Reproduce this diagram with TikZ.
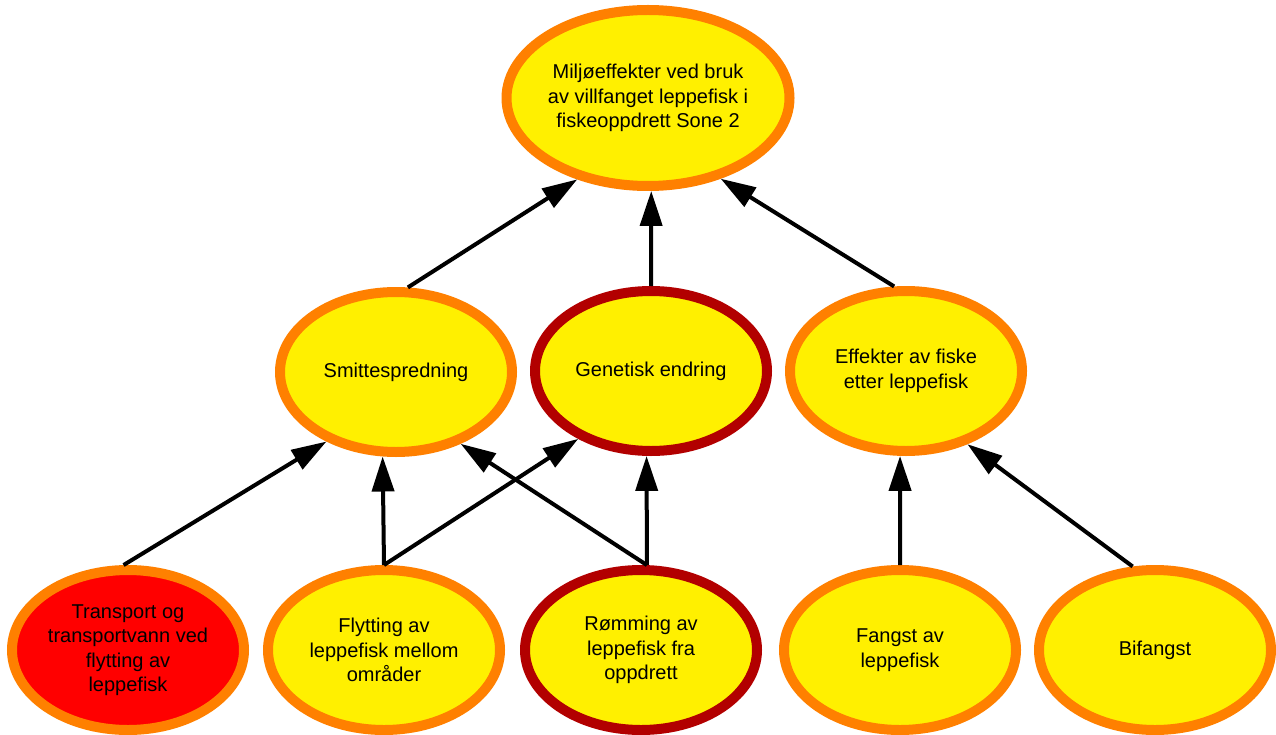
\documentclass[tikz,border=0pt]{standalone}
\usepackage{fontspec}
\setmainfont{Liberation Sans}
\usetikzlibrary{arrows.meta,shapes.geometric}
\definecolor{fillyellow}{RGB}{255,240,0}
\definecolor{rimorange}{RGB}{255,128,0}
\definecolor{rimdark}{RGB}{178,0,0}
\definecolor{fillred}{RGB}{255,0,0}
\begin{document}
\begin{tikzpicture}[x=1pt,y=-1pt,
  bubble/.style={ellipse,draw=rimorange,fill=fillyellow,line width=10pt,
    minimum width=232pt,minimum height=160pt,inner sep=0pt,align=center,
    font=\fontsize{20}{24.5}\selectfont,text=black},
  bigbubble/.style={bubble,minimum width=282pt,minimum height=176pt},
  darkrim/.style={draw=rimdark},
  redfill/.style={fill=fillred},
  link/.style={line width=4pt,-{Triangle[length=35pt,width=22pt]}}]
\path[use as bounding box] (0,0) rectangle (1276,735);

\node[bigbubble] (top) at (648,98) {Miljøeffekter ved bruk\\av villfanget leppefisk i\\fiskeoppdrett Sone 2};

\node[bubble] (smitte) at (396,372) {Smittespredning};
\node[bubble,darkrim] (genetisk) at (651,371) {Genetisk endring};
\node[bubble] (effekter) at (906,371) {Effekter av fiske\\etter leppefisk};

\node[bubble,redfill] (transport) at (128,650) {Transport og\\transportvann ved\\flytting av\\leppefisk};
\node[bubble] (flytting) at (384,650) {Flytting av\\leppefisk mellom\\områder};
\node[bubble,darkrim] (romming) at (641,650) {Rømming av\\leppefisk fra\\oppdrett};
\node[bubble] (fangst) at (900,650) {Fangst av\\leppefisk};
\node[bubble] (bifangst) at (1155,650) {Bifangst};

\draw[link] (smitte.82) -- (top.229.5);
\draw[link] (genetisk.90) -- (top.272);
\draw[link] (effekter.98) -- (top.312.5);

\draw[link] (transport.93.5) -- (smitte.225.8);
\draw[link] (flytting.90.7) -- (smitte.261.5);
\draw[link] (flytting.90.7) -- (genetisk.223);
\draw[link] (romming.86) -- (smitte.312.2);
\draw[link] (romming.86) -- (genetisk.267.4);
\draw[link] (fangst.90.5) -- (effekter.266);
\draw[link] (bifangst.105.7) -- (effekter.310.9);
\end{tikzpicture}
\end{document}
